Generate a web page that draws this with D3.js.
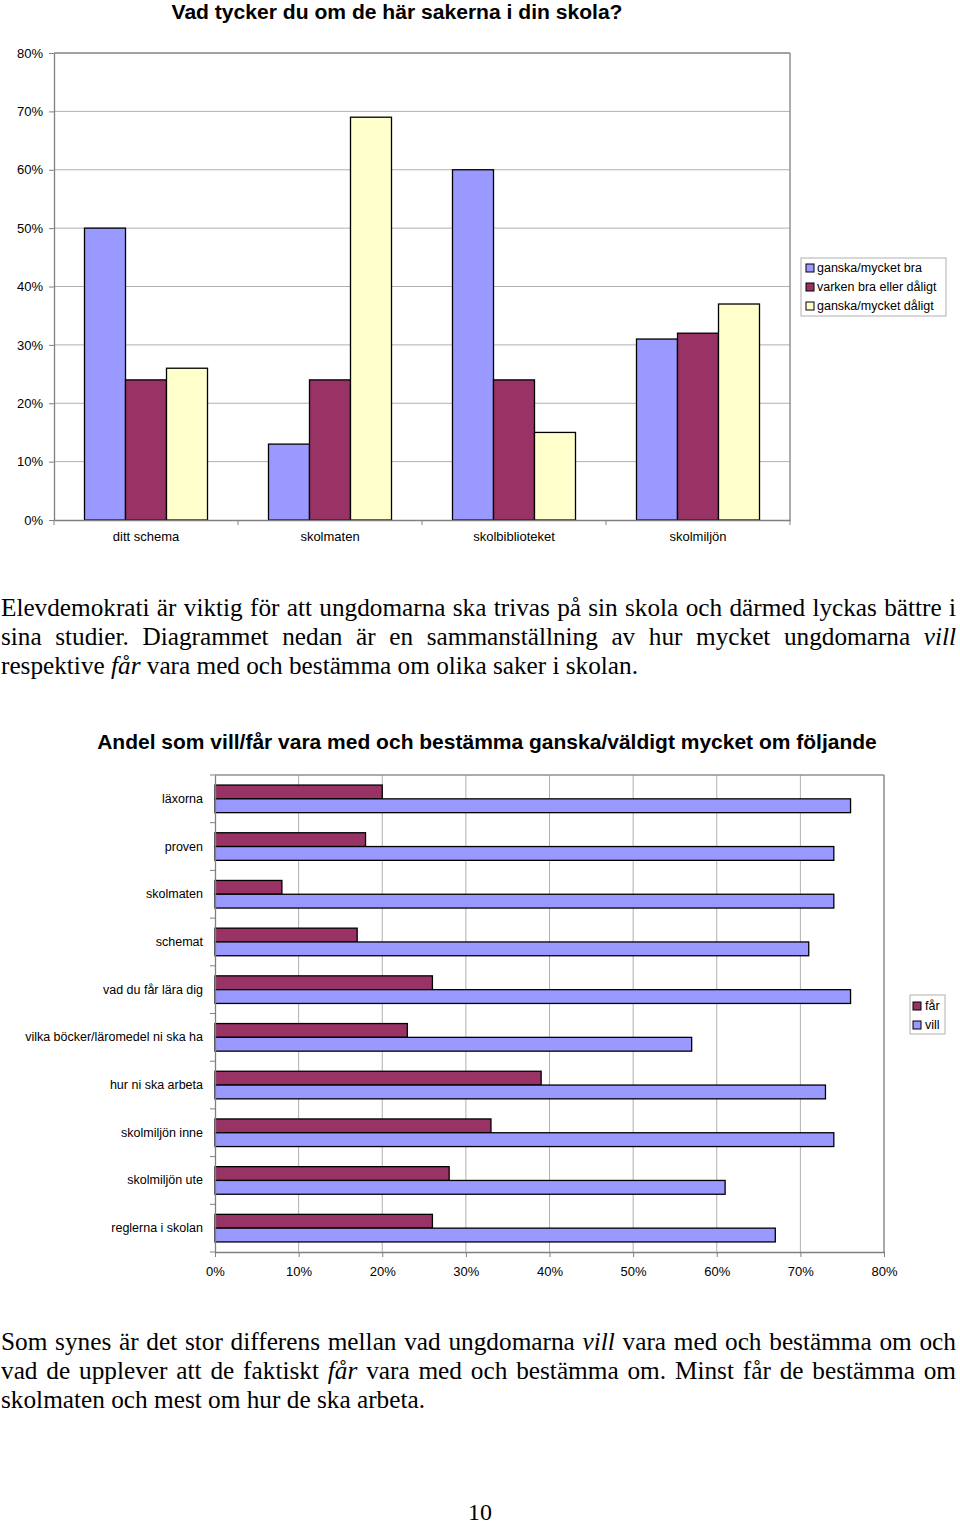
<!DOCTYPE html>
<html><head><meta charset="utf-8">
<script src="https://cdn.jsdelivr.net/npm/d3@7/dist/d3.min.js"></script>
<style>
body{margin:0;background:#fff;width:960px;height:1524px;position:relative;overflow:hidden}
svg{position:absolute;left:0;top:0}
.line{position:absolute;left:1px;white-space:nowrap;font-family:"Liberation Serif","Times New Roman",serif;font-size:24.5px;line-height:29px;color:#000;transform-origin:0 0}
.just{text-align:justify;text-align-last:justify}
.pnum{position:absolute;left:0;width:960px;text-align:center;font-family:"Liberation Serif",serif;font-size:24px;color:#000}
</style></head>
<body>
<svg id="chart" width="960" height="1524"></svg>
<div id="p1">
<div class="line just" style="top:593px">Elevdemokrati är viktig för att ungdomarna ska trivas på sin skola och därmed lyckas bättre i</div>
<div class="line just" style="top:622px">sina studier. Diagrammet nedan är en sammanställning av hur mycket ungdomarna <i>vill</i></div>
<div class="line last" data-end="638" style="top:651px">respektive <i>får</i> vara med och bestämma om olika saker i skolan.</div>
</div>
<div id="p2">
<div class="line just" style="top:1327px">Som synes är det stor differens mellan vad ungdomarna <i>vill</i> vara med och bestämma om och</div>
<div class="line just" style="top:1356px">vad de upplever att de faktiskt <i>får</i> vara med och bestämma om. Minst får de bestämma om</div>
<div class="line last" data-end="425" style="top:1385px">skolmaten och mest om hur de ska arbeta.</div>
</div>
<div class="pnum" style="top:1499px">10</div>
<script>
// ---- Chart 1 data ----
const cats1 = ["ditt schema", "skolmaten", "skolbiblioteket", "skolmiljön"];
const series1 = ["ganska/mycket bra", "varken bra eller dåligt", "ganska/mycket dåligt"];
const bra = [50, 13, 60, 31];
const varken = [24, 24, 24, 32];
const daligt = [26, 69, 15, 37];
const ticks1 = [0, 10, 20, 30, 40, 50, 60, 70, 80];
const colors1 = ["#9999FF", "#993366", "#FFFFCC"];

// ---- Chart 2 data ----
const cats2 = ["läxorna", "proven", "skolmaten", "schemat", "vad du får lära dig", "vilka böcker/läromedel ni ska ha", "hur ni ska arbeta", "skolmiljön inne", "skolmiljön ute", "reglerna i skolan"];
const series2 = ["får", "vill"];
const far = [20, 18, 8, 17, 26, 23, 39, 33, 28, 26];
const vill = [76, 74, 74, 71, 76, 57, 73, 74, 61, 67];
const ticks2 = [0, 10, 20, 30, 40, 50, 60, 70, 80];
const colors2 = ["#993366", "#9999FF"];

// paragraph layout: scale lines horizontally so the last line ends where the reference's does
["#p1", "#p2"].forEach(id => {
  const last = document.querySelector(id + " .last");
  const w = last.getBoundingClientRect().width;
  const s = (+last.dataset.end - 1) / w;
  document.querySelectorAll(id + " .line").forEach(el => {
    el.style.transform = `scaleX(${s})`;
    if (el.classList.contains("just")) el.style.width = (955 / s) + "px";
  });
});

const svg = d3.select("#chart");
const sans = "'Liberation Sans', Arial, sans-serif";

// ================= Chart 1 =================
{
  const L = 54, R = 790, T = 53, B = 520;
  const x0 = d3.scaleBand().domain(cats1).range([L, R]).paddingInner(0).paddingOuter(0);
  const inner = 123 / 184;
  const x1 = d3.scaleBand().domain(series1).range([0, x0.bandwidth() * inner]);
  const y = d3.scaleLinear().domain([0, 80]).range([B, T]);
  const g = svg.append("g");

  g.append("text").attr("x", 397).attr("y", 18.5).attr("text-anchor", "middle")
    .attr("font-family", sans).attr("font-weight", "bold").attr("font-size", 20)
    .attr("textLength", 451).attr("lengthAdjust", "spacingAndGlyphs")
    .text("Vad tycker du om de här sakerna i din skola?");

  g.selectAll(".grid").data(ticks1.slice(1)).join("line")
    .attr("x1", L).attr("x2", R).attr("y1", d => y(d)).attr("y2", d => y(d))
    .attr("stroke", "#b0b0b0").attr("stroke-width", 1);
  g.append("line").attr("x1", R).attr("x2", R).attr("y1", T).attr("y2", B).attr("stroke", "#909090").attr("stroke-width", 1.5);
  g.append("line").attr("x1", L).attr("x2", R).attr("y1", T).attr("y2", T).attr("stroke", "#909090").attr("stroke-width", 1.5);

  const data = cats1.map((c, i) => ({ c, v: [bra[i], varken[i], daligt[i]] }));
  const grp = g.selectAll(".grp").data(data).join("g")
    .attr("transform", d => `translate(${x0(d.c) + x0.bandwidth() * (1 - inner) / 2},0)`);
  grp.selectAll("rect").data(d => d.v.map((v, k) => ({ s: series1[k], v, k }))).join("rect")
    .attr("x", d => x1(d.s)).attr("width", x1.bandwidth())
    .attr("y", d => y(d.v)).attr("height", d => y(0) - y(d.v))
    .attr("fill", d => colors1[d.k]).attr("stroke", "#000").attr("stroke-width", 1.3);

  const ya = g.append("g").attr("transform", `translate(${L},0)`)
    .call(d3.axisLeft(y).tickValues(ticks1).tickFormat(d => d + "%").tickSize(5).tickSizeOuter(0));
  ya.select(".domain").attr("stroke", "#808080").attr("stroke-width", 1.3);
  ya.selectAll(".tick line").attr("stroke", "#808080");
  ya.selectAll("text").attr("font-family", sans).attr("font-size", 13).attr("fill", "#000").attr("x", -11);

  const xa = g.append("g").attr("transform", `translate(0,${B})`)
    .call(d3.axisBottom(x0).tickSize(0).tickSizeOuter(0));
  xa.select(".domain").attr("stroke", "#808080").attr("stroke-width", 1.3);
  xa.selectAll("text").attr("font-family", sans).attr("font-size", 13).attr("fill", "#000").attr("y", 12).attr("dy", "0.71em");
  g.selectAll(".xt").data(cats1.map(c => x0(c)).concat([R])).join("line")
    .attr("x1", d => d).attr("x2", d => d).attr("y1", B).attr("y2", B + 5).attr("stroke", "#808080");

  const lg = g.append("g").attr("transform", "translate(801,258)");
  lg.append("rect").attr("width", 145).attr("height", 58).attr("fill", "#fff").attr("stroke", "#b0b0b0");
  series1.forEach((s, k) => {
    lg.append("rect").attr("x", 5).attr("y", 6 + k * 19).attr("width", 8).attr("height", 8)
      .attr("fill", colors1[k]).attr("stroke", "#000");
    lg.append("text").attr("x", 16).attr("y", 10 + k * 19).attr("dy", "0.35em")
      .attr("font-family", sans).attr("font-size", 12.5).text(s);
  });
}

// ================= Chart 2 =================
{
  const L = 215, R = 884, T = 775, B = 1252;
  const x = d3.scaleLinear().domain([0, 80]).range([L, R]);
  const y0 = d3.scaleBand().domain(cats2).range([T, B]);
  const barH = 13.8;
  const y1 = d3.scaleBand().domain(series2).range([0, barH * 2]);
  const g = svg.append("g");

  g.append("text").attr("x", 487).attr("y", 749).attr("text-anchor", "middle")
    .attr("font-family", sans).attr("font-weight", "bold").attr("font-size", 21)
    .text("Andel som vill/får vara med och bestämma ganska/väldigt mycket om följande");

  g.selectAll(".grid").data(ticks2.slice(1)).join("line")
    .attr("x1", d => x(d)).attr("x2", d => x(d)).attr("y1", T).attr("y2", B)
    .attr("stroke", "#b0b0b0");
  g.append("line").attr("x1", L).attr("x2", R).attr("y1", T).attr("y2", T).attr("stroke", "#909090").attr("stroke-width", 1.3);
  g.append("line").attr("x1", R).attr("x2", R).attr("y1", T).attr("y2", B).attr("stroke", "#909090").attr("stroke-width", 1.3);

  const data = cats2.map((c, i) => ({ c, v: [far[i], vill[i]] }));
  const grp = g.selectAll(".grp").data(data).join("g")
    .attr("transform", d => `translate(0,${y0(d.c) + (y0.bandwidth() - barH * 2) / 2})`);
  grp.selectAll("rect").data(d => d.v.map((v, k) => ({ s: series2[k], v, k }))).join("rect")
    .attr("x", x(0)).attr("width", d => x(d.v) - x(0))
    .attr("y", d => y1(d.s)).attr("height", y1.bandwidth())
    .attr("fill", d => colors2[d.k]).attr("stroke", "#000").attr("stroke-width", 1.3);

  const ya = g.append("g").attr("transform", `translate(${L},0)`)
    .call(d3.axisLeft(y0).tickSize(0).tickSizeOuter(0));
  ya.select(".domain").attr("stroke", "#808080").attr("stroke-width", 1.3);
  ya.selectAll("text").attr("font-family", sans).attr("font-size", 12.5).attr("fill", "#000").attr("x", -12);
  g.selectAll(".yt").data(cats2.map(c => y0(c)).concat([B])).join("line")
    .attr("x1", L - 5).attr("x2", L).attr("y1", d => d).attr("y2", d => d).attr("stroke", "#808080");

  const xa = g.append("g").attr("transform", `translate(0,${B})`)
    .call(d3.axisBottom(x).tickValues(ticks2).tickFormat(d => d + "%").tickSize(5).tickSizeOuter(0));
  xa.select(".domain").attr("stroke", "#808080").attr("stroke-width", 1.3);
  xa.selectAll(".tick line").attr("stroke", "#808080");
  xa.selectAll("text").attr("font-family", sans).attr("font-size", 13).attr("fill", "#000").attr("y", 15);

  const lg = g.append("g").attr("transform", "translate(910,995)");
  lg.append("rect").attr("width", 35).attr("height", 39).attr("fill", "#fff").attr("stroke", "#b0b0b0");
  series2.forEach((s, k) => {
    lg.append("rect").attr("x", 3).attr("y", 7 + k * 19).attr("width", 8).attr("height", 8)
      .attr("fill", colors2[k]).attr("stroke", "#000");
    lg.append("text").attr("x", 15).attr("y", 11 + k * 19).attr("dy", "0.35em")
      .attr("font-family", sans).attr("font-size", 12.5).text(s);
  });
}
</script>
</body></html>
